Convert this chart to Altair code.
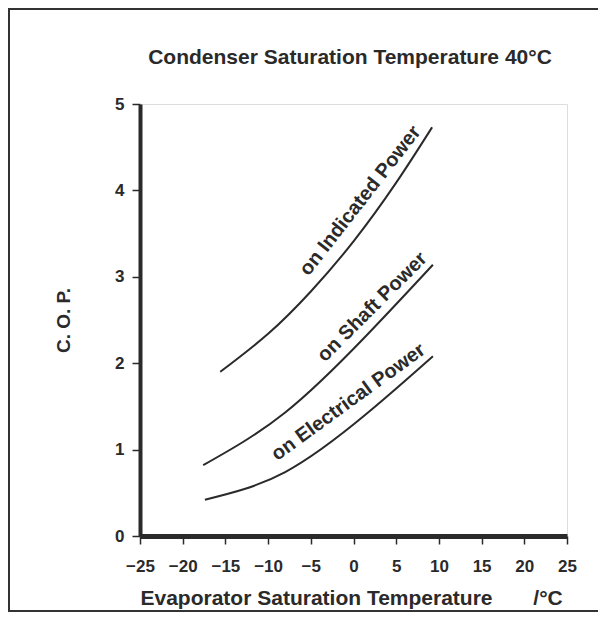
import altair as alt
import pandas as pd

# --- data ---
ind_x = [-15.6, -10.0, -5.0, 0.0, 5.0, 9.2]
ind_y = [1.90, 2.34, 2.83, 3.41, 4.09, 4.73]

shaft_x = [-17.6, -8.0, 1.6, 9.3]
shaft_y = [0.82, 1.43, 2.33, 3.14]

elec_x = [-17.4, -8.0, 1.6, 9.3]
elec_y = [0.42, 0.74, 1.42, 2.08]

series_names = ["on Indicated Power", "on Shaft Power", "on Electrical Power"]
label_x = [0.8, 2.2, -0.6]
label_y = [3.88, 2.65, 1.55]
label_angles = [308, 315, 324]

x_ticks = [-25, -20, -15, -10, -5, 0, 5, 10, 15, 20, 25]
y_ticks = [0, 1, 2, 3, 4, 5]

title_text = "Condenser Saturation Temperature 40°C"
x_title = "Evaporator Saturation Temperature\u00a0\u00a0\u00a0\u00a0\u00a0\u00a0\u00a0/°C"
y_title = "C. O. P."

FONT = "Liberation Sans"
INK = "#2a2a2a"

rows = []
for name, xs, ys in zip(series_names, [ind_x, shaft_x, elec_x], [ind_y, shaft_y, elec_y]):
    for xv, yv in zip(xs, ys):
        rows.append({"series": name, "t": xv, "cop": yv})
curves = pd.DataFrame(rows)

xscale = alt.Scale(domain=[-25, 25], nice=False, zero=False)
yscale = alt.Scale(domain=[0, 5], nice=False)

base_axis_x = alt.Axis(
    values=x_ticks, title=x_title, grid=False, format="d",
    domainWidth=5, domainColor=INK, tickColor=INK, tickWidth=1.5, tickSize=8,
    labelFont=FONT, labelFontWeight="bold", labelFontSize=17, labelColor=INK,
    labelPadding=14, labelFlush=False, labelOverlap=False,
    titleFont=FONT, titleFontWeight="bold", titleFontSize=21, titleColor=INK,
    titleX=0, titleY=62, titleAlign="left", titleBaseline="middle",
)
base_axis_y = alt.Axis(
    values=y_ticks, title=y_title, grid=False, format="d",
    domainWidth=4, domainColor=INK, tickColor=INK, tickWidth=1.5, tickSize=8,
    labelFont=FONT, labelFontWeight="bold", labelFontSize=17, labelColor=INK,
    labelPadding=8, labelFlush=False,
    titleFont=FONT, titleFontWeight="bold", titleFontSize=19, titleColor=INK,
    titleX=-77, titleY=216, titleAngle=270, titleAlign="center", titleBaseline="middle",
)

lines = alt.Chart(curves).mark_line(
    color=INK, strokeWidth=2, interpolate="natural"
).encode(
    x=alt.X("t:Q", scale=xscale, axis=base_axis_x),
    y=alt.Y("cop:Q", scale=yscale, axis=base_axis_y),
    detail="series:N",
)

layers = [lines]
for name, lx, ly, ang in zip(series_names, label_x, label_y, label_angles):
    lab = alt.Chart(pd.DataFrame({"t": [lx], "cop": [ly], "txt": [name]})).mark_text(
        font=FONT, fontWeight="bold", fontSize=20, color=INK,
        angle=ang, align="center", baseline="middle",
    ).encode(
        x=alt.X("t:Q", scale=xscale),
        y=alt.Y("cop:Q", scale=yscale),
        text="txt:N",
    )
    layers.append(lab)

title_layer = alt.Chart(pd.DataFrame({"txt": [title_text]})).mark_text(
    font=FONT, fontWeight="bold", fontSize=21, color=INK,
    align="center", baseline="middle",
).encode(x=alt.value(210), y=alt.value(-46), text="txt:N")
layers.append(title_layer)

frame = alt.Chart(pd.DataFrame({"a": [0]})).mark_rect(
    fillOpacity=0, stroke="#333333", strokeWidth=2
).encode(
    x=alt.value(-131), x2=alt.value(700), y=alt.value(-95), y2=alt.value(507)
)
layers.append(frame)

chart = alt.layer(*layers).properties(
    width=427, height=432,
    padding={"left": 132, "top": 96, "right": 31, "bottom": 77},
    autosize="none",
).configure_view(
    stroke="#555555", strokeWidth=1.5
).configure(background="white")

chart.save("out.html", embed_options={"renderer": "svg", "actions": False})
